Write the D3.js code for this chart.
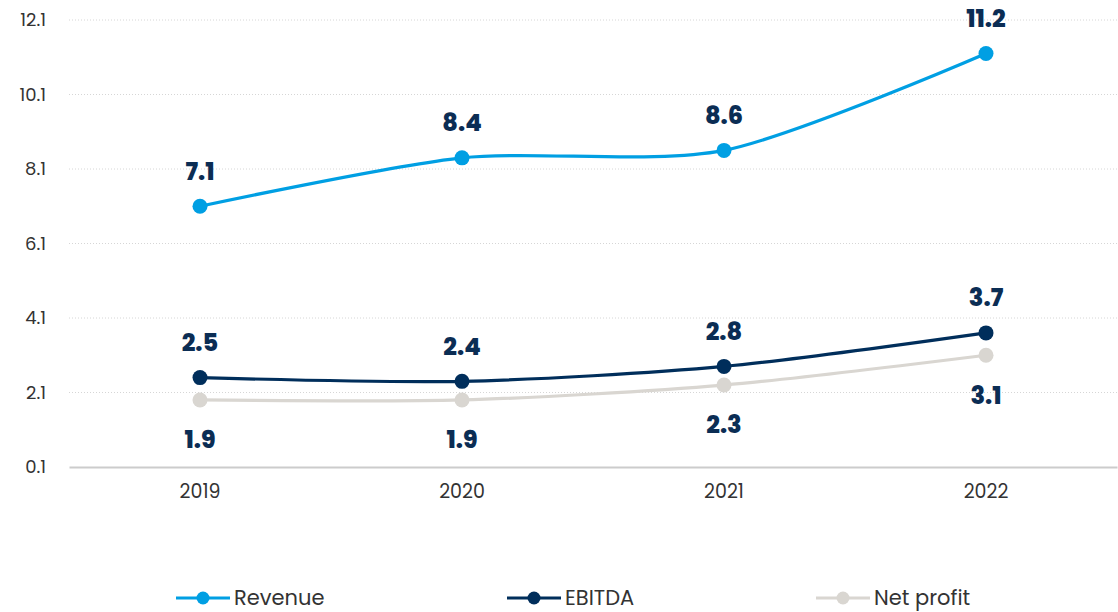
<!DOCTYPE html>
<html><head><meta charset="utf-8">
<script src="https://cdn.jsdelivr.net/npm/d3@7"></script>
<style>body{margin:0;background:#fff;font-family:Poppins,Inter,"Open Sans",sans-serif}</style>
</head><body><svg id="c" width="1118" height="612"></svg>
<script>
const years = ["2019","2020","2021","2022"];
const revenue = [7.1, 8.4, 8.6, 11.2];
const ebitda = [2.5, 2.4, 2.8, 3.7];
const netProfit = [1.9, 1.9, 2.3, 3.1];
const yTicks = [0.1, 2.1, 4.1, 6.1, 8.1, 10.1, 12.1];
const seriesNames = ["Revenue","EBITDA","Net profit"];
const colors = ["#009fe3","#002e5b","#d9d6d1"];
const labelPos = ["above","above","below"];

const svg = d3.select("#c");
const x = d3.scaleBand().domain(years).range([69, 1117]).padding(0);
const y = d3.scaleLinear().domain([0.1, 12.1]).range([467, 20]);

// grid
svg.append("g").selectAll("line").data(yTicks.slice(1)).join("line")
  .attr("x1",69).attr("x2",1117).attr("y1",d=>y(d)).attr("y2",d=>y(d))
  .attr("stroke","#d6d6d6").attr("stroke-width",1).attr("stroke-dasharray","1,2");
// y labels
const yAxis = d3.axisLeft(y).tickValues(yTicks).tickSize(0).tickPadding(0).tickFormat(d3.format(".1f"));
const ya = svg.append("g").attr("transform","translate(46,0)").call(yAxis);
ya.select(".domain").remove();
ya.selectAll("text").attr("font-size",18).attr("fill","#333").attr("font-family","Poppins,Inter,sans-serif");
// x axis
const xAxis = d3.axisBottom(x).tickSize(0).tickPadding(18);
const xa = svg.append("g").attr("transform","translate(0,467)").call(xAxis);
xa.select(".domain").attr("stroke","#cccccc").attr("stroke-width",2);
xa.selectAll("text").attr("font-size",19).attr("fill","#333").attr("font-family","Poppins,Inter,sans-serif");

const cx = d => x(d) + x.bandwidth()/2;
const all = [revenue, ebitda, netProfit];
const line = d3.line().x((d,i)=>cx(years[i])).y(d=>y(d)).curve(d3.curveCardinal.tension(0.2));

[2,1,0].forEach(s=>{
  const g = svg.append("g");
  g.append("path").datum(all[s]).attr("d",line).attr("fill","none")
    .attr("stroke",colors[s]).attr("stroke-width",3.2);
  g.selectAll("circle").data(all[s]).join("circle")
    .attr("cx",(d,i)=>cx(years[i])).attr("cy",d=>y(d)).attr("r",7.5).attr("fill",colors[s]);
});
[0,1,2].forEach(s=>{
  svg.append("g").selectAll("text").data(all[s]).join("text")
    .attr("x",(d,i)=>cx(years[i]))
    .attr("y",d=> labelPos[s]==="above" ? y(d)-35 : y(d)+40)
    .attr("dy","0.35em").attr("text-anchor","middle")
    .attr("font-size",24).attr("font-weight",800).attr("fill","#0b2d54")
    .attr("font-family","Poppins,Inter,sans-serif")
    .text(d=>d3.format(".1f")(d));
});

// legend
const legX = [176, 507, 816];
const lg = svg.append("g");
seriesNames.forEach((n,i)=>{
  const g = lg.append("g").attr("transform",`translate(${legX[i]},598)`);
  g.append("line").attr("x1",0).attr("x2",54).attr("y1",0).attr("y2",0)
    .attr("stroke",colors[i]).attr("stroke-width",3.2);
  g.append("circle").attr("cx",27).attr("cy",0).attr("r",6.5).attr("fill",colors[i]);
  g.append("text").attr("x",58).attr("y",0).attr("dy","0.35em")
    .attr("font-size",21).attr("fill","#333").attr("font-family","Poppins,Inter,sans-serif").text(n);
});
</script></body></html>
